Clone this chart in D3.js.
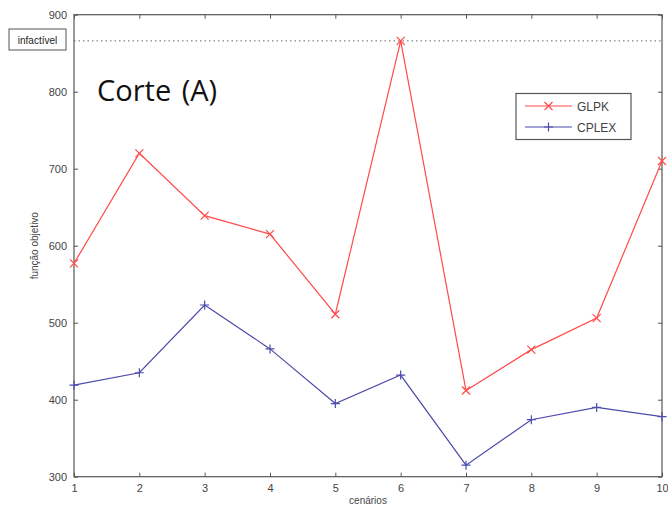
<!DOCTYPE html>
<html>
<head>
<meta charset="utf-8">
<script src="https://cdn.jsdelivr.net/npm/d3@7"></script>
<style>
  body { margin: 0; background: #fff; }
  svg { font-family: "Liberation Sans", Arial, sans-serif; }
  .axis text { font-size: 11px; fill: #444; }
  .axis path, .axis line { stroke: #555; }
</style>
</head>
<body>
<svg width="668" height="512"></svg>
<script>
const cenarios = [1, 2, 3, 4, 5, 6, 7, 8, 9, 10]
const glpk = [577, 720, 639, 615, 511, 866, 412, 465, 506, 710]
const cplex = [419, 435, 523, 466, 395, 432, 315, 374, 390, 378]
const infactivel = 866
const yTicks = [300, 400, 500, 600, 700, 800, 900]

const svg = d3.select("svg")
const mLeft = 74, mRight = 662, mTop = 14.7, mBottom = 476.7

var x = d3.scaleLinear().domain([1, 10]).range([mLeft, mRight])
var y = d3.scaleLinear().domain([300, 900]).range([mBottom, mTop])

// box
svg.append("rect")
    .attr("x", mLeft).attr("y", mTop)
    .attr("width", mRight - mLeft).attr("height", mBottom - mTop)
    .attr("fill", "none").attr("stroke", "#555").attr("stroke-width", 1.2)

// axes with inward ticks
svg.append("g").attr("class", "axis")
    .attr("transform", `translate(0,${mBottom})`)
    .call(d3.axisBottom(x).tickValues(cenarios).tickSizeInner(-4).tickSizeOuter(0).tickPadding(8))
svg.append("g").attr("class", "axis")
    .attr("transform", `translate(0,${mTop})`)
    .call(d3.axisTop(x).tickValues(cenarios).tickSizeInner(-4).tickSizeOuter(0).tickFormat(""))
svg.append("g").attr("class", "axis")
    .attr("transform", `translate(${mLeft},0)`)
    .call(d3.axisLeft(y).tickValues(yTicks).tickSizeInner(-4).tickSizeOuter(0).tickPadding(7))
svg.append("g").attr("class", "axis")
    .attr("transform", `translate(${mRight},0)`)
    .call(d3.axisRight(y).tickValues(yTicks).tickSizeInner(-4).tickSizeOuter(0).tickFormat(""))
svg.selectAll(".axis .domain").remove()

// infeasible line
svg.append("line")
    .attr("x1", mLeft).attr("x2", mRight)
    .attr("y1", y(infactivel)).attr("y2", y(infactivel))
    .attr("stroke", "#666").attr("stroke-dasharray", "1.5,3")

svg.append("rect")
    .attr("x", 9).attr("y", 29).attr("width", 57).attr("height", 21)
    .attr("fill", "#fff").attr("stroke", "#555")
svg.append("text")
    .attr("x", 37.5).attr("y", 43.5)
    .attr("text-anchor", "middle")
    .style("font-size", "10px").style("fill", "#222")
    .text("infactível")

// title inside
svg.append("text")
    .attr("x", 97).attr("y", 101)
    .style("font-family", "'Open Sans', sans-serif")
    .style("font-size", "29px").style("fill", "#111")
    .style("word-spacing", "3px")
    .text("Corte (A)")

// axis labels
svg.append("text")
    .attr("x", (mLeft + mRight) / 2).attr("y", 504)
    .attr("text-anchor", "middle")
    .style("font-size", "10px").style("fill", "#444")
    .text("cenários")
svg.append("text")
    .attr("transform", `translate(38,${(mTop + mBottom) / 2}) rotate(-90)`)
    .attr("text-anchor", "middle")
    .style("font-size", "10px").style("fill", "#444")
    .text("função objetivo")

const red = "#ff4a4a", blue = "#4b4bab"
var line = d3.line().x((d, i) => x(cenarios[i])).y(d => y(d))

function series(vals, color, marker) {
    svg.append("path").datum(vals)
        .attr("d", line)
        .attr("fill", "none").attr("stroke", color).attr("stroke-width", 1.2)
    var g = svg.append("g")
    g.selectAll("path").data(vals).join("path")
        .attr("transform", (d, i) => `translate(${x(cenarios[i])},${y(d)})`)
        .attr("d", marker)
        .attr("fill", "none").attr("stroke", color).attr("stroke-width", 1.2)
}
const xMark = "M-4,-4L4,4M-4,4L4,-4"
const plusMark = "M-4.5,0L4.5,0M0,-4.5L0,4.5"
series(glpk, red, xMark)
series(cplex, blue, plusMark)

// legend
var lg = svg.append("g")
lg.append("rect")
    .attr("x", 516).attr("y", 93.5).attr("width", 115).attr("height", 46)
    .attr("fill", "#fff").attr("stroke", "#555").attr("stroke-width", 1.2)
var items = [["GLPK", red, xMark, 106], ["CPLEX", blue, plusMark, 127]]
items.forEach(([name, color, mk, ly]) => {
    lg.append("line").attr("x1", 525).attr("x2", 572).attr("y1", ly).attr("y2", ly)
        .attr("stroke", color).attr("stroke-width", 1.2)
    lg.append("path").attr("transform", `translate(548.5,${ly})`).attr("d", mk)
        .attr("fill", "none").attr("stroke", color).attr("stroke-width", 1.2)
    lg.append("text").attr("x", 577).attr("y", ly + 4.5)
        .style("font-size", "12px").style("fill", "#444")
        .text(name)
})
</script>
</body>
</html>
